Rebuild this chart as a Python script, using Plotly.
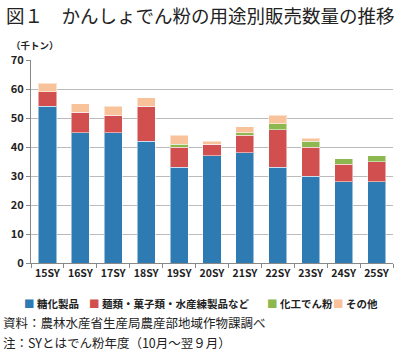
import plotly.graph_objects as go

categories = ["15SY", "16SY", "17SY", "18SY", "19SY", "20SY", "21SY", "22SY", "23SY", "24SY", "25SY"]
sugar = [54, 45, 45, 42, 33, 37, 38, 33, 30, 28, 28]
noodles = [5, 7, 6, 12, 7, 4, 6, 13, 10, 6, 7]
modified = [0, 0, 0, 0, 1, 0, 1, 2, 2, 2, 2]
other = [3, 3, 3, 3, 3, 1, 2, 3, 1, 0, 0]

series_names = ["糖化製品", "麺類・菓子類・水産練製品など", "化工でん粉", "その他"]
series_values = [sugar, noodles, modified, other]
colors = ["#2E7BB4", "#D14F4F", "#8DB84F", "#F8C39B"]

font = "Noto Sans CJK JP"
L, T, W, H = 31, 60, 362, 203.3

def px(x):
    return (x - L) / W

def py(y):
    return 1 - (y - T) / H

fig = go.Figure()
for name, vals, col in zip(series_names, series_values, colors):
    fig.add_trace(go.Bar(
        x=categories, y=vals, name=name,
        marker=dict(color=col, line=dict(color="rgba(255,255,255,0.5)", width=1)),
    ))

annotations = [
    dict(text="図１　かんしょでん粉の用途別販売数量の推移", x=px(4), y=py(15),
         xanchor="left", yanchor="middle", font=dict(size=18.5, family=font, color="#222")),
    dict(text="（千トン）", x=px(9), y=py(45), xanchor="left", yanchor="middle",
         font=dict(size=9.5, family=font, weight="bold")),
    dict(text="資料：農林水産省生産局農産部地域作物課調べ", x=px(1), y=py(323),
         xanchor="left", yanchor="middle", font=dict(size=12.5, family=font)),
    dict(text="注：SYとはでん粉年度（10月～翌９月）", x=px(1), y=py(343),
         xanchor="left", yanchor="middle", font=dict(size=12.5, family=font)),
]
# legend entries (one per series)
legend_x = [22, 87, 265, 331]
for name, col, lx in zip(series_names, colors, legend_x):
    annotations.append(dict(
        text=f"<span style='color:{col}'>■</span> {name}", x=px(lx), y=py(304),
        xanchor="left", yanchor="middle",
        font=dict(size=10.5, family=font, weight="bold", color="#222")))
for a in annotations:
    a.update(xref="paper", yref="paper", showarrow=False)

fig.update_layout(
    barmode="stack",
    bargap=0.45,
    width=400, height=356,
    margin=dict(l=L, r=400 - L - W, t=T, b=356 - T - H, autoexpand=False),
    plot_bgcolor="white", paper_bgcolor="white",
    font=dict(family=font, color="#222", size=11),
    showlegend=False,
    xaxis=dict(showline=True, linecolor="#888", linewidth=1, ticks="outside",
               tickson="boundaries", ticklen=4, tickcolor="#888", tickangle=0,
               automargin=False,
               tickfont=dict(size=10.5, family=font, weight="bold"), fixedrange=True),
    yaxis=dict(range=[0, 70], dtick=10, showline=True, linecolor="#888", linewidth=1,
               ticks="outside", ticklen=4, tickcolor="#888", automargin=False,
               gridcolor="#BBBBBB", gridwidth=1,
               tickfont=dict(size=11, family=font, weight="bold"), zeroline=False),
    annotations=annotations,
)

fig.write_html("out.html", config={"displayModeBar": False},
               post_script="document.body.style.margin='0';document.body.style.padding='0';")
